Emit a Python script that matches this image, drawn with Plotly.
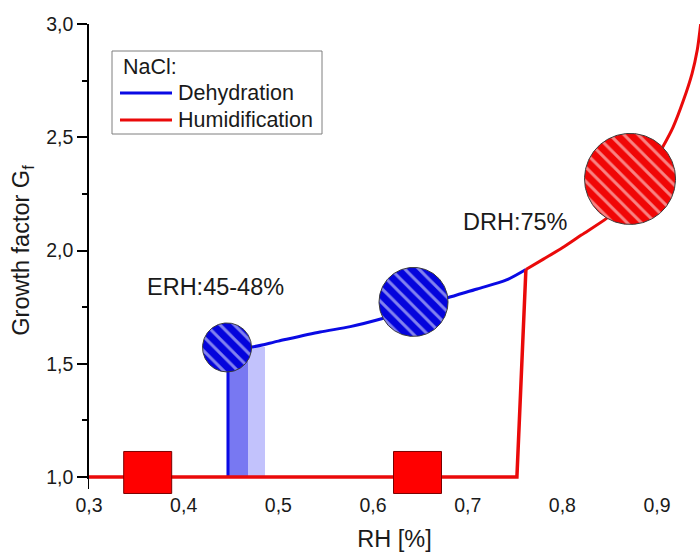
import numpy as np
import plotly.graph_objects as go

# ---------------- data ----------------
# Humidification branch (NaCl): flat at Gf = 1 until deliquescence, then growth
rh_humid_base = [0.300, 0.752, 0.7615]
gf_humid_base = [1.000, 1.000, 1.916]
rh_humid = [0.7615, 0.780, 0.800, 0.820, 0.847, 0.865, 0.885,
            0.906, 0.917, 0.928, 0.937, 0.9425, 0.9454, 0.948]
gf_humid = [1.916, 1.962, 2.012, 2.068, 2.143, 2.210, 2.310,
            2.457, 2.545, 2.664, 2.781, 2.885, 2.975, 3.070]

# Dehydration branch (NaCl): shrinks until efflorescence, then drops to Gf = 1
rh_dehyd_drop = [0.4468, 0.4468]
gf_dehyd_drop = [1.000, 1.568]
rh_dehyd = [0.4468, 0.472, 0.500, 0.544, 0.576, 0.610, 0.645, 0.678,
            0.710, 0.741, 0.7615]
gf_dehyd = [1.568, 1.574, 1.600, 1.640, 1.664, 1.700, 1.745, 1.790,
            1.830, 1.870, 1.916]

# Efflorescence range bands (ERH 45-48 %)
erh_left = [0.4468, 0.468]
erh_right = [0.468, 0.486]
erh_top = [1.568, 1.575]

# Droplet symbols (hatched circles) and crystal symbols (squares)
drop_rh = [0.4458, 0.6428, 0.8715]
drop_gf = [1.572, 1.773, 2.316]
crystal_rh = [0.362, 0.647]
crystal_gf = [1.02, 1.02]

x_ticks = [0.3, 0.4, 0.5, 0.6, 0.7, 0.8, 0.9]
y_ticks = [1.0, 1.5, 2.0, 2.5, 3.0]

legend_title = "NaCl:"
legend_names = ["Dehydration", "Humidification"]

# ---------------- geometry / styles ----------------
W, H = 700, 552
M_L, M_R, M_T, M_B = 89, 0, 24, 55
PAD_PX = 20                       # extra room below the x axis for unclipped lines
X_RANGE = [0.3, 0.9454]
Y_RANGE = [1.0, 3.0]
plot_w = W - M_L - M_R
plot_h = H - M_T - M_B
y_frac = PAD_PX / plot_h
y3_lo = Y_RANGE[0] - (Y_RANGE[1] - Y_RANGE[0]) * y_frac / (1 - y_frac)

SX = plot_w / (X_RANGE[1] - X_RANGE[0])                 # px per RH unit
SY = (plot_h - PAD_PX) / (Y_RANGE[1] - Y_RANGE[0])      # px per Gf unit


def px_to_paper(px, py):
    return (px - M_L) / plot_w, (H - M_B - py) / plot_h


DROP_RADII_PX = [24.5, 34.5, 45.5]
BLUE = "#0a0ae4"
RED = "#ea0a0a"
DROP_COLORS = ["#0404dc", "#0404dc", "#f00606"]
CRYSTAL_HALF_PX = (24, 21)
FONT = "Liberation Sans, Arial, sans-serif"
TEXT = "#1a1a1a"

fig = go.Figure()

# ERH shading
for l, r, t, col in zip(erh_left, erh_right, erh_top, ["#7878f2", "#c2c2fc"]):
    fig.add_trace(go.Bar(x=[(l + r) / 2], y=[t - 1.0], base=[1.0], width=[r - l],
                         marker=dict(color=col, line=dict(width=0)),
                         showlegend=False, hoverinfo="skip",
                         xaxis="x", yaxis="y3"))

# dehydration
fig.add_trace(go.Scatter(x=rh_dehyd_drop, y=gf_dehyd_drop, mode="lines",
                         line=dict(color=BLUE, width=3), showlegend=False,
                         xaxis="x", yaxis="y3"))
fig.add_trace(go.Scatter(x=rh_dehyd, y=gf_dehyd, mode="lines",
                         line=dict(color=BLUE, width=3, shape="spline", smoothing=0.8),
                         showlegend=False, xaxis="x", yaxis="y3"))
# humidification
fig.add_trace(go.Scatter(x=rh_humid_base, y=gf_humid_base, mode="lines",
                         line=dict(color=RED, width=3.5), showlegend=False,
                         xaxis="x", yaxis="y3"))
fig.add_trace(go.Scatter(x=rh_humid, y=gf_humid, mode="lines",
                         line=dict(color=RED, width=3, shape="spline", smoothing=0.8),
                         showlegend=False, xaxis="x", yaxis="y3"))

# hatched droplets
theta = np.linspace(0, 2 * np.pi, 181)
for cx, cy, r, col in zip(drop_rh, drop_gf, DROP_RADII_PX, DROP_COLORS):
    fig.add_trace(go.Scatter(
        x=cx + r * np.cos(theta) / SX, y=cy + r * np.sin(theta) / SY,
        mode="lines", fill="toself", fillcolor=col,
        fillpattern=dict(shape="\\", bgcolor=col, fgcolor="white",
                         size=10, solidity=0.3),
        line=dict(color="#3a3a3a", width=1),
        showlegend=False, hoverinfo="skip", xaxis="x", yaxis="y3"))

# crystals
hx, hy = CRYSTAL_HALF_PX
for cx, cy in zip(crystal_rh, crystal_gf):
    dx, dy = hx / SX, hy / SY
    fig.add_trace(go.Scatter(
        x=[cx - dx, cx + dx, cx + dx, cx - dx, cx - dx],
        y=[cy - dy, cy - dy, cy + dy, cy + dy, cy - dy],
        mode="lines", fill="toself", fillcolor="#ff0000",
        line=dict(color="#7a0000", width=1),
        showlegend=False, hoverinfo="skip", xaxis="x", yaxis="y3"))

fig.add_annotation(x=0.4336, y=1.839, xref="x", yref="y", text="ERH:45-48%",
                   showarrow=False, font=dict(size=23.5, color=TEXT))
fig.add_annotation(x=0.750, y=2.126, xref="x", yref="y", text="DRH:75%",
                   showarrow=False, font=dict(size=23.5, color=TEXT))

# legend box
bx0, by0 = px_to_paper(112, 134)
bx1, by1 = px_to_paper(322, 51)
fig.add_shape(type="rect", xref="paper", yref="paper", x0=bx0, y0=by0, x1=bx1, y1=by1,
              line=dict(color="#7f7f7f", width=1), fillcolor="white", layer="above")
tx, ty = px_to_paper(121, 67)
fig.add_annotation(x=tx, y=ty, xref="paper", yref="paper", text=legend_title,
                   xanchor="left", yanchor="middle", showarrow=False,
                   font=dict(size=21.5, color=TEXT))
for name, col, py in zip(legend_names, [BLUE, RED], [93, 120]):
    lx0, ly = px_to_paper(120, py)
    lx1, _ = px_to_paper(172, py)
    fig.add_shape(type="line", xref="paper", yref="paper", x0=lx0, x1=lx1, y0=ly, y1=ly,
                  line=dict(color=col, width=3), layer="above")
    nx, _ = px_to_paper(176, py)
    fig.add_annotation(x=nx, y=ly, xref="paper", yref="paper", text=name,
                       xanchor="left", yanchor="middle", showarrow=False,
                       font=dict(size=21.5, color=TEXT))

axis_common = dict(showline=True, linecolor="black", linewidth=1.5,
                   tickcolor="black", tickwidth=1.5, showgrid=False, zeroline=False)

fig.update_layout(
    width=W, height=H,
    margin=dict(l=M_L, r=M_R, t=M_T, b=M_B, autoexpand=False),
    paper_bgcolor="white", plot_bgcolor="white",
    separators=",.",
    font=dict(family=FONT, color=TEXT, size=19.5),
    showlegend=False,
    xaxis=dict(range=X_RANGE, domain=[0, 1], anchor="y", ticks="outside", ticklen=10,
               tickvals=x_ticks, tickformat=".1f", tickfont=dict(size=19.5),
               minor=dict(ticks="outside", ticklen=5, tickwidth=1.5, dtick=0.05,
                          tick0=0.3, tickcolor="black"),
               title=dict(text="RH [%]", font=dict(size=23.5), standoff=15),
               **axis_common),
    xaxis2=dict(range=X_RANGE, overlaying="x", anchor="y", side="top", ticks="inside",
                ticklen=9, tickvals=x_ticks, showticklabels=False,
                minor=dict(ticks="inside", ticklen=5, tickwidth=1.5, dtick=0.05,
                           tick0=0.3, tickcolor="black"),
                **axis_common),
    yaxis=dict(range=Y_RANGE, domain=[y_frac, 1], anchor="x", ticks="outside",
               ticklen=10, tickvals=y_ticks, tickformat=".1f", tickfont=dict(size=19.5),
               minor=dict(ticks="outside", ticklen=5, tickwidth=1.5, dtick=0.25,
                          tick0=1.0, tickcolor="black"),
               title=dict(text="Growth factor G<sub>f</sub>", font=dict(size=23.5),
                          standoff=10),
               **axis_common),
    yaxis2=dict(range=Y_RANGE, overlaying="y", anchor="x", side="right", ticks="inside",
                ticklen=9, tickvals=y_ticks, showticklabels=False,
                minor=dict(ticks="inside", ticklen=5, tickwidth=1.5, dtick=0.25,
                           tick0=1.0, tickcolor="black"),
                **axis_common),
    yaxis3=dict(range=[y3_lo, Y_RANGE[1]], domain=[0, 1], anchor="x", visible=False,
                fixedrange=True),
    bargap=0,
)

fig.write_html("out.html")
